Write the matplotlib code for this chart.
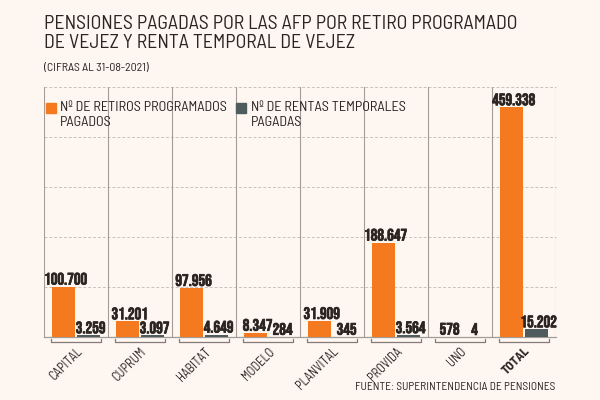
import matplotlib
matplotlib.use('Agg')
import matplotlib.pyplot as plt
import matplotlib.patches as mpatches
import matplotlib.patheffects as pe
import numpy as np

# data
categories = ['CAPITAL', 'CUPRUM', 'HABITAT', 'MODELO', 'PLANVITAL', 'PROVIDA', 'UNO', 'TOTAL']
retiros = [100700, 31201, 97956, 8347, 31909, 188647, 578, 459338]
rentas = [3259, 3097, 4649, 284, 345, 3564, 4, 15202]
value_labels_ret = ['100.700', '31.201', '97.956', '8.347', '31.909', '188.647', '578', '459.338']
value_labels_ren = ['3.259', '3.097', '4.649', '284', '345', '3.564', '4', '15.202']

BG = '#fdf6f1'
ORANGE = '#f57a1f'
GRAY = '#4e5c5f'
TXT = '#2b2522'
LINE = '#a39b96'

NUM_FONT = 'Bebas Neue'
TXT_FONT = 'Barlow Semi Condensed'

fig = plt.figure(figsize=(6, 4), dpi=100, facecolor=BG)
ax = fig.add_axes([0.0733, 0.1575, 0.8533, 0.625], facecolor=BG)

x = np.arange(len(categories))
w = 0.36
off = 0.195
ax.bar(x - off, retiros, width=w, color=ORANGE, zorder=3)
ax.bar(x + off, rentas, width=w, color=GRAY, zorder=3)

# slightly heavier look for the numbers
bold = [pe.withStroke(linewidth=0.5, foreground=TXT)]
for i in range(len(categories)):
    ax.annotate(value_labels_ret[i], (x[i] - off, retiros[i]), xytext=(1.5, 1.5),
                textcoords='offset points', ha='center', va='bottom',
                fontsize=12, family=NUM_FONT, color=TXT, zorder=4, path_effects=bold)
    ax.annotate(value_labels_ren[i], (x[i] + off, rentas[i]), xytext=(1.5, 1.5),
                textcoords='offset points', ha='center', va='bottom',
                fontsize=12, family=NUM_FONT, color=TXT, zorder=4, path_effects=bold)

ax.set_xlim(-0.5, len(categories) - 0.5)
ax.set_ylim(0, 500000)

# grid: dashed horizontals, solid separators
for yv in [100000, 200000, 300000, 400000, 500000]:
    ax.axhline(yv, color='#c9c1bc', lw=0.7, ls=(0, (3, 2)), zorder=1, clip_on=False)
for xv in np.arange(-0.5, len(categories), 1.0):
    ax.axvline(xv, color=LINE, lw=0.8, zorder=1)

for s in ['top', 'right', 'left']:
    ax.spines[s].set_visible(False)
ax.spines['bottom'].set_color(LINE)
ax.spines['bottom'].set_linewidth(0.9)
ax.set_yticks([])

# brackets under each group
trans = ax.get_xaxis_transform()
for xi in x:
    ax.plot([xi - 0.395, xi - 0.395, xi + 0.395, xi + 0.395], [-0.006, -0.018, -0.018, -0.006],
            color='#857c77', lw=0.9, transform=trans, clip_on=False)

ax.set_xticks(x)
ax.set_xticklabels(categories, rotation=45, ha='right', rotation_mode='anchor',
                   fontsize=9, color=TXT, family=TXT_FONT)
ax.get_xticklabels()[-1].set_fontweight('bold')
ax.tick_params(axis='x', length=0, pad=6)

# legend, drawn by hand
fig.patches.append(mpatches.Rectangle((46 / 600, 1 - 113 / 400), 9.5 / 600, 10 / 400,
                                      transform=fig.transFigure, color=ORANGE))
fig.text(60 / 600, 1 - 101 / 400, 'Nº DE RETIROS PROGRAMADOS\nPAGADOS', ha='left', va='top',
         fontsize=10.3, family=TXT_FONT, color=TXT, linespacing=1.15)
fig.patches.append(mpatches.Rectangle((236 / 600, 1 - 113 / 400), 9.5 / 600, 10 / 400,
                                      transform=fig.transFigure, color=GRAY))
fig.text(251 / 600, 1 - 101 / 400, 'Nº DE RENTAS TEMPORALES\nPAGADAS', ha='left', va='top',
         fontsize=10.3, family=TXT_FONT, color=TXT, linespacing=1.15)

# titles
fig.text(44 / 600, 1 - 15 / 400,
         'PENSIONES PAGADAS POR LAS AFP POR RETIRO PROGRAMADO\nDE VEJEZ Y RENTA TEMPORAL DE VEJEZ',
         ha='left', va='top', fontsize=14.3, family=TXT_FONT, fontweight='normal',
         color=TXT, linespacing=1.05)
fig.text(44 / 600, 1 - 68 / 400, '(CIFRAS AL 31-08-2021)', ha='left', va='center',
         fontsize=8.5, family=TXT_FONT, color=TXT)
fig.text(555 / 600, 1 - 387 / 400, 'FUENTE: SUPERINTENDENCIA DE PENSIONES', ha='right',
         va='center', fontsize=8.2, family=TXT_FONT, color=TXT)

fig.savefig('out.png', dpi=100, facecolor=BG)
